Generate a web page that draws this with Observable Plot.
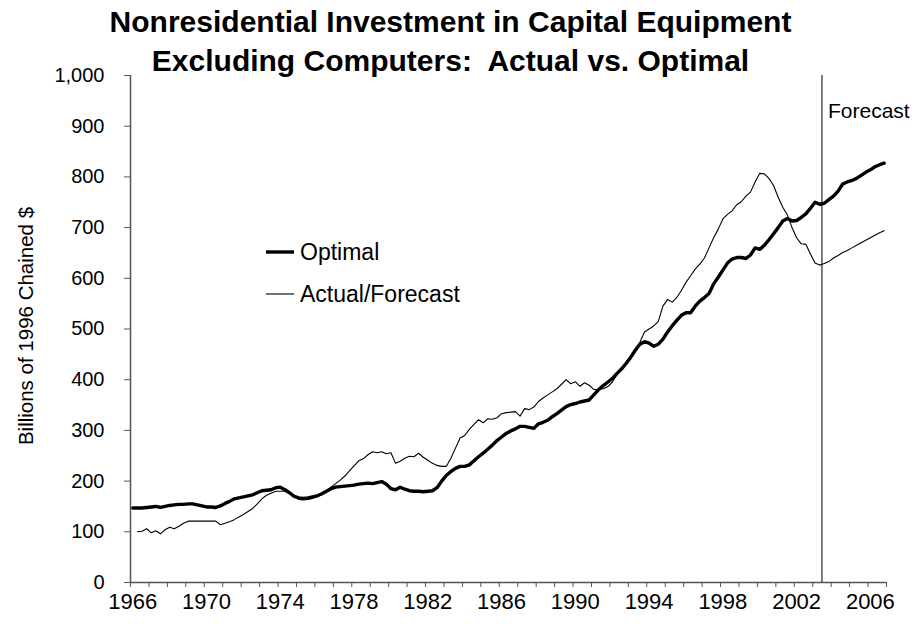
<!DOCTYPE html>
<html>
<head>
<meta charset="utf-8">
<script src="https://cdn.jsdelivr.net/npm/d3@7"></script>
<script src="https://cdn.jsdelivr.net/npm/@observablehq/plot@0.6"></script>
<style>
  html, body { margin: 0; padding: 0; background: #fff; }
  #chart { width: 914px; height: 628px; }
</style>
</head>
<body>
<div id="chart"></div>
<script>
// ---- Data (billions of 1996 chained $, quarterly) ----
const titleText = "Nonresidential Investment in Capital Equipment\nExcluding Computers:  Actual vs. Optimal";
const yAxisLabel = "Billions of 1996 Chained $";
const seriesNames = ["Optimal", "Actual/Forecast"];
const forecastLabel = "Forecast";
const forecastStart = 2003.375; // boundary between 2003Q2 and 2003Q3

const optimalStart = 1966.0; // 1966Q1
const optimalValues = [
  147, 147, 147, 148, 149, 150, 148, 150, 152, 153, 154, 154,
  155, 155, 153, 151, 149, 149, 148, 151, 156, 160, 165, 167,
  169, 171, 173, 177, 181, 182, 183, 187, 188, 183, 177, 170,
  167, 166, 167, 169, 171, 175, 180, 185, 188, 189, 190, 191,
  192, 194, 195, 196, 195, 197, 199, 194, 185, 183, 188, 184,
  181, 180, 180, 179, 180, 181, 187, 200, 211, 219, 225, 229,
  229, 232, 240, 248, 255, 263, 271, 280, 287, 294, 299, 303,
  308, 308, 306, 304, 313, 316, 320, 327, 333, 340, 347, 351,
  353, 356, 358, 360, 370, 380, 388, 395, 402, 412, 421, 432,
  444, 458, 470, 475, 472, 466, 470, 480, 494, 506, 517, 527,
  532, 532, 545, 555, 562, 570, 589, 602, 616, 630, 638, 641,
  641, 639, 646, 660, 657, 665, 676, 688, 700, 713, 718, 713,
  714, 720, 727, 738, 750, 746, 748, 755, 762, 772, 786, 790,
  793, 797, 803, 809, 814, 820, 824, 827
];

const actualStart = 1966.25; // 1966Q2
const actualValues = [
  100, 101, 106, 98, 102, 96, 104, 109, 106, 111, 117,
  121, 121, 121, 121, 121, 121, 121, 114, 117, 120, 124, 129,
  134, 140, 146, 155, 165, 172, 176, 180, 180, 180, 176, 170,
  164, 163, 164, 166, 169, 173, 181, 188, 195, 202, 210, 220,
  230, 240, 244, 252, 258, 256, 258, 254, 256, 235, 239, 245,
  249, 248, 255, 247, 241, 235, 231, 229, 229, 245, 265, 285,
  290, 302, 312, 321, 315, 323, 322, 325, 333, 335, 336, 337,
  328, 343, 341, 346, 357, 364, 370, 376, 382, 391, 400, 392,
  396, 387, 394, 389, 381, 380, 382, 386, 395, 410, 420, 432,
  445, 460, 474, 494, 500, 506, 515, 545, 558, 553, 562, 576,
  592, 605, 618, 628, 640, 660, 680, 697, 717, 726, 733, 745,
  751, 762, 770, 790, 807, 806, 797, 783, 760, 740, 725, 700,
  680, 668, 667, 648, 630, 626, 629, 633, 640, 645, 651, 655,
  660, 665, 670, 675, 680, 685, 690, 694
];

const yTicks = [0, 100, 200, 300, 400, 500, 600, 700, 800, 900, 1000];
const xLabelYears = [1966, 1970, 1974, 1978, 1982, 1986, 1990, 1994, 1998, 2002, 2006];
const xDomain = [1965.875, 2006.875];

// ---- Build tables ----
const optimal = optimalValues.map((v, i) => ({t: optimalStart + i / 4, v}));
const actual = actualValues.map((v, i) => ({t: actualStart + i / 4, v}));
const yearBounds = d3.range(xDomain[0], xDomain[1] + 0.01, 1);

const font = "Arial, 'Liberation Sans', Helvetica, sans-serif";

const chart = Plot.plot({
  width: 914,
  height: 628,
  marginLeft: 130,
  marginRight: 28,
  marginTop: 75,
  marginBottom: 46,
  style: {fontFamily: font, background: "#fff", color: "#000", overflow: "visible"},
  x: {domain: xDomain, label: null},
  y: {domain: [0, 1000], label: null},
  marks: [
    Plot.axisY(yTicks, {tickSize: 6, tickPadding: 20, tickFormat: d3.format(","), fontSize: 20, stroke: "#555", fill: "#000"}),
    Plot.axisX(xLabelYears, {tickSize: 0, tickPadding: 11, tickFormat: d => String(d), fontSize: 22, fill: "#000"}),
    Plot.axisX(yearBounds, {tickSize: 5, tickFormat: () => "", stroke: "#555"}),
    Plot.ruleY([0], {stroke: "#555", strokeWidth: 1.5}),
    Plot.ruleX([xDomain[0]], {stroke: "#555", strokeWidth: 1.5}),
    Plot.ruleX([forecastStart], {stroke: "#000", strokeWidth: 1}),
    Plot.text([forecastLabel], {x: () => forecastStart, frameAnchor: "top", textAnchor: "start", lineAnchor: "top", dx: 6, dy: 28, fontSize: 21, fill: "#000"}),
    Plot.line(actual, {x: "t", y: "v", stroke: "#000", strokeWidth: 1.1}),
    Plot.line(optimal, {x: "t", y: "v", stroke: "#000", strokeWidth: 3.4}),
    Plot.text([yAxisLabel], {frameAnchor: "left", textAnchor: "middle", rotate: -90, dx: -104, dy: -3, fontSize: 20.5, fill: "#000"}),
    Plot.text([titleText], {frameAnchor: "top", lineAnchor: "top", dx: -58, dy: -71, fontSize: 30, fontWeight: "bold", lineHeight: 1.3, fill: "#000"})
  ]
});

// Legend (drawn inside the plot area like the original)
const svg = d3.select(chart);
const legend = svg.append("g").attr("font-family", font).attr("font-size", 23).attr("text-anchor", "start");
const legendItems = [
  {name: seriesNames[0], w: 3.4, y: 252},
  {name: seriesNames[1], w: 1.1, y: 294}
];
legendItems.forEach(d => {
  legend.append("line").attr("x1", 266).attr("x2", 294).attr("y1", d.y).attr("y2", d.y)
    .attr("stroke", "#000").attr("stroke-width", d.w);
  legend.append("text").attr("x", 300).attr("y", d.y).attr("dy", "0.35em").attr("fill", "#000").text(d.name);
});

document.getElementById("chart").appendChild(chart);
</script>
</body>
</html>
